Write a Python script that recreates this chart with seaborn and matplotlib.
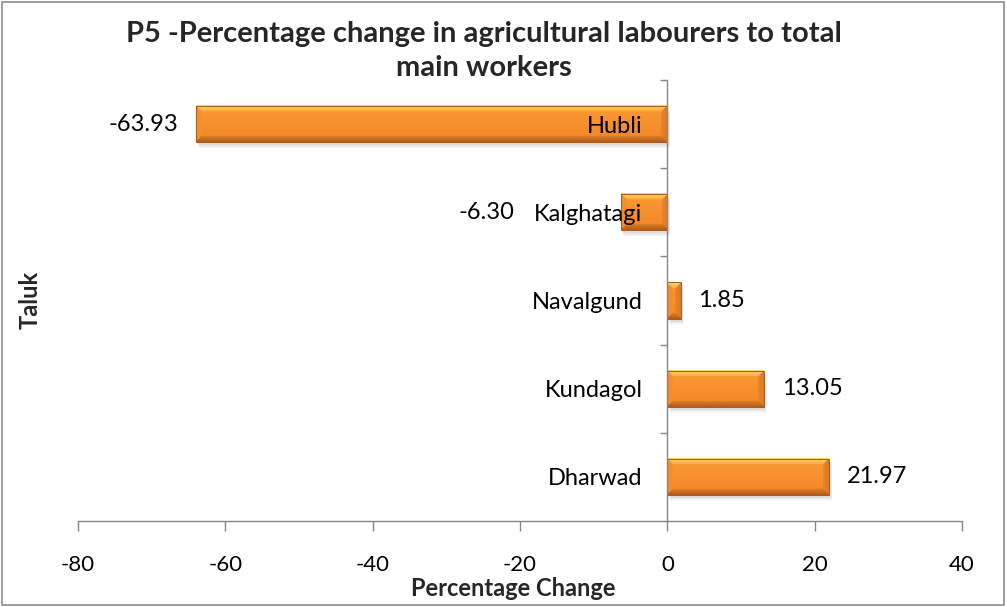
import numpy as np
import pandas as pd
import matplotlib
matplotlib.use("Agg")
import matplotlib.pyplot as plt
from matplotlib.patches import Rectangle
from matplotlib.transforms import offset_copy
from matplotlib.colors import to_rgb
import seaborn as sns

# Data
talukas = ["Hubli", "Kalghatagi", "Navalgund", "Kundagol", "Dharwad"]
pct_change = [-63.93, -6.30, 1.85, 13.05, 21.97]
x_ticks = [-80, -60, -40, -20, 0, 20, 40]

title = "P5 -Percentage change in agricultural labourers to total\nmain workers"
x_title = "Percentage Change"
y_title = "Taluk"

sns.set_style("white")
plt.rcParams["font.family"] = ["Lato", "DejaVu Sans"]

AXIS_GREY = "#868686"

fig = plt.figure(figsize=(10.07, 6.07), dpi=100)
ax = fig.add_axes([0.0775, 0.1417, 0.8779, 0.7265])

df = pd.DataFrame({"Taluk": talukas, "Change": pct_change})
sns.barplot(data=df, x="Change", y="Taluk", orient="h", color="#F7962F",
            saturation=1, width=0.41, ax=ax)

ax.set_xlim(x_ticks[0], x_ticks[-1])
ax.set_ylim(len(talukas) - 0.5, -0.5)


def rgb(c):
    return np.array(to_rgb(c))


def bevel_image(w, h, b=6):
    """Orange bar face with a bevelled rim, w x h pixels."""
    yy, xx = np.mgrid[0:h, 0:w].astype(float)
    t = (yy / max(h - 1, 1))[..., None]
    # body: bright orange fading slightly darker downwards
    img = rgb("#FB9A33") * (1 - t) + rgb("#F2872A") * t
    d_top, d_bot = yy, h - 1 - yy
    d_left, d_right = xx, w - 1 - xx
    dmin = np.minimum.reduce([d_top, d_bot, d_left, d_right])
    rim = dmin < b
    s = (dmin / max(b, 1))[..., None]  # 0 at outer edge, 1 at inner edge
    faces = (
        (d_left, rgb("#F58F2A"), rgb("#F3902E")),
        (d_right, rgb("#DC7A22"), rgb("#EC8629")),
        (d_bot, rgb("#B45E18"), rgb("#E58026")),
        (d_top, rgb("#FFD26E"), rgb("#FDA83E")),
    )
    for d, outer, inner in faces:
        m = rim & (d == dmin)
        col = outer * (1 - s) + inner * s
        img[m] = col[m]
    return np.clip(img, 0, 1)


for p in list(ax.patches):
    bb = p.get_bbox()
    x0, x1 = sorted([bb.x0, bb.x1])
    y0, y1 = sorted([bb.y0, bb.y1])
    (px0, py0), (px1, py1) = ax.transData.transform([(x0, y0), (x1, y1)])
    wpx = max(int(round(abs(px1 - px0))), 2)
    hpx = max(int(round(abs(py1 - py0))), 2)
    bev = max(1, min(6, wpx // 2, hpx // 3))
    img = bevel_image(wpx, hpx, bev)
    # soft drop shadow
    for k, a in ((6, 0.05), (4.5, 0.07), (3, 0.09)):
        tr = offset_copy(ax.transData, fig=fig, x=k * 0.5, y=-k, units="dots")
        ax.add_patch(Rectangle((x0, y0), x1 - x0, y1 - y0, transform=tr,
                               facecolor="#555555", edgecolor="none",
                               alpha=a, zorder=1.05))
    ax.imshow(img, extent=(x0, x1, y1, y0), aspect="auto",
              interpolation="bilinear", zorder=1.2)
    p.set_facecolor("none")
    p.set_edgecolor("#A8591A")
    p.set_linewidth(0.7)
    p.set_zorder(1.3)

ax.set_xlim(x_ticks[0], x_ticks[-1])
ax.set_ylim(len(talukas) - 0.5, -0.5)

# Value labels
offsets = [-13, -77, 12, 13, 13]
for i, (v, off) in enumerate(zip(pct_change, offsets)):
    ax.annotate(f"{v:.2f}", xy=(v, i), xytext=(off, 0), textcoords="offset points",
                ha="right" if v < 0 else "left", va="center",
                fontsize=17, color="black", zorder=4)

# Axes styling
ax.set_axisbelow(False)
for s in ("top", "right"):
    ax.spines[s].set_visible(False)
ax.spines["left"].set_position(("data", 0))
for s in ("left", "bottom"):
    ax.spines[s].set_color(AXIS_GREY)
    ax.spines[s].set_linewidth(1.0)

ax.set_xticks(x_ticks)
ax.set_xticklabels([str(t) for t in x_ticks])
ax.tick_params(axis="x", bottom=True, direction="out", length=7.5, width=1.0,
               color=AXIS_GREY, pad=17, labelsize=16, labelcolor="black")

ax.set_yticks(range(len(talukas)))
ax.set_yticklabels(talukas)
ax.set_yticks(np.arange(-0.5, len(talukas) - 0.5, 1.0), minor=True)
ax.tick_params(axis="y", which="major", left=False, length=0, pad=18,
               labelsize=17, labelcolor="black")
ax.tick_params(axis="y", which="minor", left=True, direction="out", length=5,
               width=1.0, color=AXIS_GREY)
ax.set_xlabel("")
ax.set_ylabel("")

# Titles
fig.text(0.481, 0.966, title, ha="center", va="top", fontsize=21,
         fontweight="bold", linespacing=1.42)
fig.text(0.51, 0.031, x_title, ha="center", va="center", fontsize=17,
         fontweight="bold")
fig.text(0.030, 0.506, y_title, ha="center", va="center", rotation=90,
         fontsize=17, fontweight="bold")

# Chart frame
fig.patches.append(Rectangle((0.002, 0.003), 0.995, 0.994, transform=fig.transFigure,
                             fill=False, edgecolor="#8C8C8C", linewidth=1.2))

fig.savefig("out.png", dpi=100)
